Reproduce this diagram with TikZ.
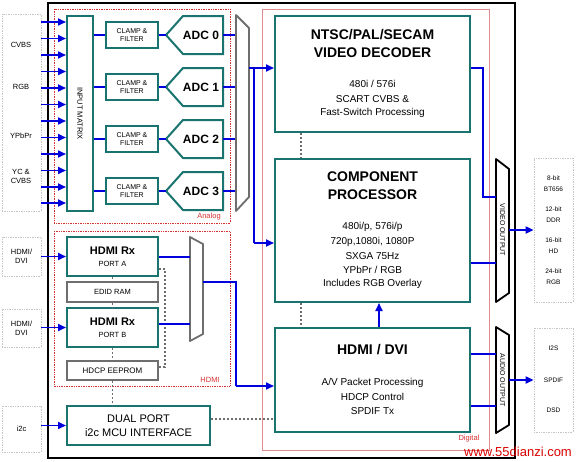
\documentclass[tikz,border=0pt]{standalone}
\usepackage{fontspec}
\setmainfont{Liberation Sans}
\usetikzlibrary{arrows.meta}
\definecolor{tealc}{RGB}{25,115,110}
\definecolor{bluec}{RGB}{0,0,220}
\definecolor{grayc}{RGB}{110,110,110}
\definecolor{redc}{RGB}{215,50,50}
\definecolor{pinkc}{RGB}{225,140,140}
\tikzset{
  tbox/.style={draw=tealc,line width=2pt,fill=white,inner sep=0pt},
  gbox/.style={draw=grayc,line width=1.8pt,fill=white,inner sep=0pt},
  inbox/.style={draw=gray!45,densely dotted,line width=0.7pt,inner sep=0pt,align=center,font=\fontsize{7.5}{9}\selectfont},
  outbox/.style={draw=gray!45,densely dotted,line width=0.7pt,inner sep=0pt},
  bl/.style={draw=bluec,line width=1.8pt},
  arr/.style={bl,-{Triangle[length=8pt,width=7pt]}},
  dl/.style={draw=grayc,line width=1.1pt,dash pattern=on 2pt off 2pt},
  mux/.style={draw=grayc,line width=1.8pt,line join=round},
  bmux/.style={draw=black,line width=1.8pt,line join=round,fill=white},
  area/.style={draw=redc,densely dotted,line width=0.7pt},
  arealbl/.style={text=redc,font=\fontsize{7.5}{9}\selectfont,inner sep=0pt},
  big/.style={font=\fontsize{14}{16}\selectfont\bfseries,inner sep=0pt},
  mid/.style={font=\fontsize{10}{12}\selectfont,inner sep=0pt},
  sm/.style={font=\fontsize{7}{8.5}\selectfont,inner sep=0pt,align=center},
}
\begin{document}
\begin{tikzpicture}[x=1pt,y=-1pt]
\useasboundingbox (0,0) rectangle (576,461);
% outer frame and areas
\draw[line width=2.2pt] (48,3) rectangle (515,458);
\draw[area] (54,9) rectangle (230,223);
\node[arealbl] (lanalog) at (209,217) {Analog};
\draw[area] (54,231) rectangle (230,386);
\node[arealbl] (lhdmi) at (210,380) {HDMI};
\draw[draw=pinkc,line width=1pt] (262,9) rectangle (489,450);
\node[arealbl] (ldigital) at (469,439) {Digital};

% left input box
\node[outbox,minimum width=39pt,minimum height=197pt] (inL) at (21.5,112.5) {};
\node[sm,font=\fontsize{7.5}{9}\selectfont] (tcvbs) at (21,45) {CVBS};
\node[sm,font=\fontsize{7.5}{9}\selectfont] (trgb) at (21,87) {RGB};
\node[sm,font=\fontsize{7.5}{9}\selectfont] (typbpr) at (21,136) {YPbPr};
\node[sm,font=\fontsize{7.5}{9}\selectfont] (tyc) at (21,176) {YC \&\\CVBS};

% input matrix
\node[tbox,minimum width=26pt,minimum height=195pt] (mat) at (80,113.5) {};
\node[rotate=-90,font=\fontsize{7.5}{9}\selectfont,inner sep=0pt] (tmat) at (mat.center) {INPUT MATRIX};
\foreach \y in {22,38.5,55,71.5,88,104.5,121,137.5,154,170.5,187,203}
  \draw[arr] (inL.east |- 0,\y) -- (mat.west |- 0,\y);

% clamp, ADC
\foreach \i/\y in {0/35,1/87,2/139,3/191}{
  \node[tbox,minimum width=52pt,minimum height=26pt,sm] (cl\i) at (132,\y) {CLAMP \&\\FILTER};
  \draw[tealc,line width=2pt,fill=white,line join=miter] (183,\y-19) -- (223,\y-19) -- (223,\y+19) -- (183,\y+19) -- (166,\y) -- cycle;
  \coordinate (adct\i) at (166,\y);
  \coordinate (adcr\i) at (223,\y);
  \coordinate (amin\i) at (236,\y);
  \node[font=\fontsize{12}{14}\selectfont\bfseries,inner sep=0pt] (adc\i) at (201,\y) {ADC \i};
  \draw[bl] (mat.east |- cl\i.west) -- (cl\i.west);
  \draw[bl] (cl\i.east) -- (adct\i);
  \draw[bl] (adcr\i) -- (amin\i);
}
% analog mux
\draw[mux] (236,15) -- (249,28) -- (249,197) -- (236,211) -- cycle;
\coordinate (amout) at (249,68);
\coordinate (abr) at (254,68);

% digital blocks
\node[tbox,minimum width=195pt,minimum height=116pt] (dec) at (372.5,74) {};
\node[big] (d1) at (372.5,35) {NTSC/PAL/SECAM};
\node[big] (d2) at (372.5,53) {VIDEO DECODER};
\node[mid] (d3) at (372.5,84) {480i / 576i};
\node[mid] (d4) at (372.5,99) {SCART CVBS \&};
\node[mid] (d5) at (372.5,113) {Fast-Switch Processing};

\node[tbox,minimum width=195pt,minimum height=143pt] (comp) at (372.5,230.5) {};
\node[big] (c1) at (372.5,177) {COMPONENT};
\node[big] (c2) at (372.5,195) {PROCESSOR};
\node[mid] (c3) at (372.5,227) {480i/p, 576i/p};
\node[mid] (c4) at (372.5,241.5) {720p,1080i, 1080P};
\node[mid] (c5) at (372.5,256) {SXGA 75Hz};
\node[mid] (c6) at (372.5,270) {YPbPr / RGB};
\node[mid] (c7) at (372.5,284) {Includes RGB Overlay};

\node[tbox,minimum width=195pt,minimum height=104pt] (hd) at (372.5,380) {};
\node[big] (h1) at (372.5,350) {HDMI / DVI};
\node[mid] (h2) at (372.5,383) {A/V Packet Processing};
\node[mid] (h3) at (372.5,397) {HDCP Control};
\node[mid] (h4) at (372.5,411) {SPDIF Tx};

\draw[arr] (amout) -- (dec.west |- amout);
\draw[bl] (abr) -- (abr |- 0,243);
\draw[arr] (abr |- 0,243) -- (comp.west |- 0,243);
\draw[dl] (dec.south -| 301,0) -- (comp.north -| 301,0);
\draw[dl] (comp.south -| 301,0) -- (hd.north -| 301,0);
\draw[arr] (hd.north -| 379,0) -- (comp.south -| 379,0);

% output muxes
\draw[bmux] (496,159) -- (509,169) -- (509,293) -- (496,302) -- cycle;
\node[rotate=-90,font=\fontsize{7}{8}\selectfont,inner sep=0pt] (vout) at (502.5,230) {VIDEO OUTPUT};
\draw[bmux] (496,327) -- (509,335) -- (509,425) -- (496,433) -- cycle;
\node[rotate=-90,font=\fontsize{7}{8}\selectfont,inner sep=0pt] (aout) at (502.5,380) {AUDIO OUTPUT};
\coordinate (vmin1) at (496,197);
\coordinate (vmin2) at (496,263);
\coordinate (vmout) at (509,230);
\coordinate (amin1) at (496,354);
\coordinate (amin2) at (496,406);
\coordinate (amout2) at (509,380);
\draw[bl] (dec.east |- 0,68) -- (483,68) -- (483,197) -- (vmin1);
\draw[bl] (comp.east |- vmin2) -- (vmin2);
\draw[bl] (hd.east |- amin1) -- (amin1);
\draw[bl] (hd.east |- amin2) -- (amin2);

% output boxes
\node[outbox,minimum width=39pt,minimum height=144pt] (vbox) at (553.5,230) {};
\node[outbox,minimum width=39pt,minimum height=104pt] (abox) at (553.5,380) {};
\draw[arr] (vmout) -- (vbox.west |- vmout);
\draw[arr] (amout2) -- (abox.west |- amout2);
\node[sm,font=\fontsize{6.5}{10.5}\selectfont] (o1) at (553.5,183.5) {8-bit\\BT656};
\node[sm,font=\fontsize{6.5}{10.5}\selectfont] (o2) at (553.5,214.5) {12-bit\\DDR};
\node[sm,font=\fontsize{6.5}{10.5}\selectfont] (o3) at (553.5,245.5) {16-bit\\HD};
\node[sm,font=\fontsize{6.5}{10.5}\selectfont] (o4) at (553.5,276.5) {24-bit\\RGB};
\node[sm,font=\fontsize{6.5}{8}\selectfont] (p1) at (553.5,348) {I2S};
\node[sm,font=\fontsize{6.5}{8}\selectfont] (p2) at (553.5,380) {SPDIF};
\node[sm,font=\fontsize{6.5}{8}\selectfont] (p3) at (553.5,410) {DSD};

% HDMI section
\node[inbox,minimum width=39pt,minimum height=39pt] (hin1) at (21.5,256.5) {HDMI/\\DVI};
\node[inbox,minimum width=39pt,minimum height=38pt] (hin2) at (21.5,328) {HDMI/\\DVI};
\node[inbox,minimum width=39pt,minimum height=46pt] (i2cin) at (21.5,429) {i2c};

\node[tbox,minimum width=91pt,minimum height=39pt] (pa) at (112.5,256.5) {};
\node[font=\fontsize{11}{13}\selectfont\bfseries,inner sep=0pt] (pa1) at (112.5,251) {HDMI Rx};
\node[font=\fontsize{7.5}{9}\selectfont,inner sep=0pt] (pa2) at (112.5,263.5) {PORT A};
\node[gbox,minimum width=91pt,minimum height=20pt,font=\fontsize{7.5}{9}\selectfont] (edid) at (112.5,292) {EDID RAM};
\node[tbox,minimum width=91pt,minimum height=39pt] (pb) at (112.5,327.5) {};
\node[font=\fontsize{11}{13}\selectfont\bfseries,inner sep=0pt] (pb1) at (112.5,322) {HDMI Rx};
\node[font=\fontsize{7.5}{9}\selectfont,inner sep=0pt] (pb2) at (112.5,334.5) {PORT B};
\node[gbox,minimum width=91pt,minimum height=19pt,font=\fontsize{8}{9}\selectfont] (hdcp) at (112.5,370.5) {HDCP EEPROM};
\node[tbox,minimum width=143pt,minimum height=39pt,font=\fontsize{11}{14}\selectfont,align=center] (dual) at (138.5,425.5) {DUAL PORT\\i2c MCU INTERFACE};

\draw[arr] (hin1.east |- pa.west) -- (pa.west);
\draw[arr] (hin2.east |- pb.west) -- (pb.west);
\draw[arr] (i2cin.east |- dual.west) -- (dual.west);

\draw[dl] (pa.south) -- (edid.north);
\draw[dl] (edid.south) -- (pb.north);
\draw[dl] (pb.south) -- (hdcp.north);
\draw[dl] (hdcp.south) -- (hdcp.south |- dual.north);
\draw[dl] (pa.east |- 0,269) -- (165,269) -- (165,367) -- (hdcp.east |- 0,367);
\draw[dl] (dual.east |- 0,419) -- (hd.west |- 0,419);

\draw[mux] (190,237) -- (203,244) -- (203,334) -- (190,341) -- cycle;
\coordinate (hmin1) at (190,257);
\coordinate (hmin2) at (190,324);
\coordinate (hmout) at (203,282);
\draw[bl] (pa.east |- hmin1) -- (hmin1);
\draw[bl] (pb.east |- hmin2) -- (hmin2);
\draw[bl] (hmout) -- (236,282) -- (236,386);
\draw[arr] (236,386) -- (hd.west |- 0,386);

% watermark
\node[text=red!85!black,font=\fontsize{13}{15}\selectfont,inner sep=0pt] (wm) at (518,451.5) {www.55dianzi.com};
\end{tikzpicture}
\end{document}
